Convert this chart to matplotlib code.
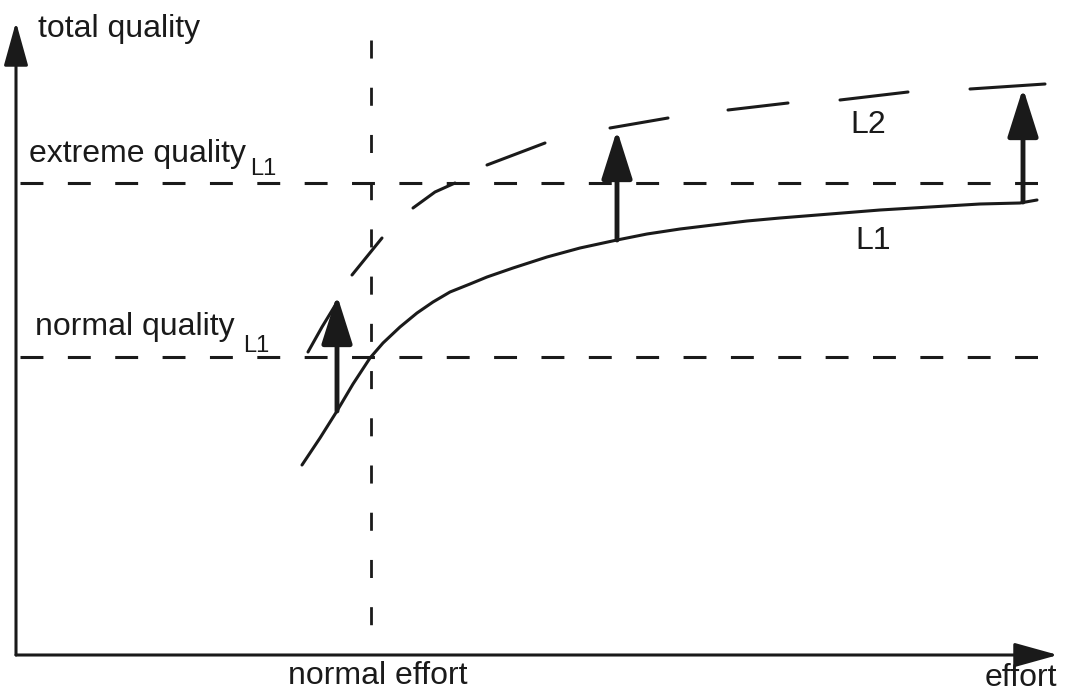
import matplotlib
matplotlib.use("Agg")
import matplotlib.pyplot as plt
import numpy as np

# Values, in picture units (x = effort, y = quality, y grows downward)
L1_EFFORT = [302, 320, 337, 353, 370, 383, 400, 417, 433, 450, 470, 487, 513, 547,
             580, 617, 647, 680, 713, 747, 780, 830, 880, 930, 980, 1020, 1037]
L1_QUALITY = [465, 438, 411, 384, 358, 343, 327, 313, 302, 292, 284, 277, 268, 257,
              248, 240, 234, 229, 225, 221, 218, 214, 210, 207, 204, 203, 200]

# L2 is a broken (long-dash) line: nan marks each gap as drawn
nan = np.nan
L2_EFFORT = [308, 322, 336, nan, 352, 382, nan, 413, 435, 455, nan, 487, 545, nan,
             610, 668, nan, 728, 788, nan, 840, 908, nan, 970, 1045]
L2_QUALITY = [352, 327, 304, nan, 275, 238, nan, 208, 192, 183, nan, 165, 143, nan,
              128, 118, nan, 110, 103, nan, 100, 92, nan, 89, 84]

NORMAL_QUALITY = 357
EXTREME_QUALITY = 183
NORMAL_EFFORT = 371

# quality-improvement arrows: effort, start on L1, tip on L2
ARROW_EFFORT = [337, 617, 1023]
ARROW_FROM = [411, 240, 202]
ARROW_TO = [295, 130, 88]

ORIGIN = (16, 655)
AXIS_END_X = 1058
AXIS_END_Y = 22

ink = "#1a1a1a"
font = ["Liberation Sans", "DejaVu Sans"]

fig = plt.figure(figsize=(10.68, 6.91), dpi=100, facecolor="white")
ax = fig.add_axes([0, 0, 1, 1])
ax.set_xlim(0, 1068)
ax.set_ylim(691, 0)
ax.axis("off")

# axes with arrow heads
axis_kw = dict(arrowstyle="-|>,head_length=2.7,head_width=0.75", color=ink, lw=2.2,
               shrinkA=0, shrinkB=0)
ax.annotate("", xy=(ORIGIN[0], AXIS_END_Y), xytext=ORIGIN, arrowprops=axis_kw)
ax.annotate("", xy=(AXIS_END_X, ORIGIN[1]), xytext=ORIGIN, arrowprops=axis_kw)

# reference lines
ax.plot([20, 1050], [EXTREME_QUALITY] * 2, color=ink, lw=2.2, linestyle=(0, (7.5, 8)))
ax.plot([20, 1050], [NORMAL_QUALITY] * 2, color=ink, lw=2.2, linestyle=(0, (7.5, 8)))
ax.plot([NORMAL_EFFORT] * 2, [40, ORIGIN[1]], color=ink, lw=2.0, linestyle=(0, (6.5, 10.5)))

# curves
ax.plot(L1_EFFORT, L1_QUALITY, color=ink, lw=2.2, solid_capstyle="round",
        solid_joinstyle="round")
ax.plot(L2_EFFORT, L2_QUALITY, color=ink, lw=2.2, solid_capstyle="round")

# arrows between the curves
for x, y0, y1 in zip(ARROW_EFFORT, ARROW_FROM, ARROW_TO):
    ax.annotate("", xy=(x, y1), xytext=(x, y0),
                arrowprops=dict(arrowstyle="-|>,head_length=3.0,head_width=0.95",
                                color=ink, lw=3.5, shrinkA=0, shrinkB=0))

big = dict(family=font, fontsize=23, color=ink)
sub = dict(family=font, fontsize=17, color=ink)
ax.text(38, 37, "total quality", va="baseline", ha="left", **big)
ax.text(29, 162, "extreme quality", va="baseline", ha="left", **big)
ax.text(250, 175, "L1", va="baseline", ha="left", **sub)
ax.text(35, 335, "normal quality", va="baseline", ha="left", **big)
ax.text(243, 352, "L1", va="baseline", ha="left", **sub)
ax.text(868, 125, "L2", va="center", ha="center", **big)
ax.text(873, 241, "L1", va="center", ha="center", **big)
ax.text(378, 684, "normal effort", va="baseline", ha="center", **big)
ax.text(1021, 686, "effort", va="baseline", ha="center", **big)

fig.savefig("out.png", dpi=100, facecolor="white")
